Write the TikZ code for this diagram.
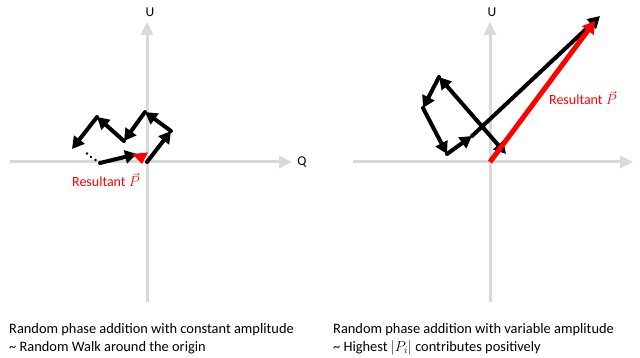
\documentclass[tikz,border=0pt]{standalone}
\usepackage{fontspec}
\setmainfont{Carlito}
\usetikzlibrary{arrows.meta}
\definecolor{axisgray}{RGB}{217,217,217}
\definecolor{resred}{RGB}{255,0,0}
\begin{document}
\begin{tikzpicture}[x=1pt,y=-1pt,
  axis/.style={draw=axisgray,line width=3pt,-{Triangle[length=13pt,width=12pt]}},
  vec/.style={draw=black,line width=4pt,line cap=round,-{Triangle[length=12pt,width=13pt]}},
  dvec/.style={draw=black,line width=4pt,{Triangle[length=12pt,width=13pt]}-{Triangle[length=12pt,width=13pt]}},
  resvec/.style={draw=resred,line width=5pt,-{Triangle[length=12pt,width=14pt]}},
  lbl/.style={font=\fontsize{13.5}{16}\selectfont},
  reslbl/.style={font=\fontsize{14}{16}\selectfont,text=resred},
  caption/.style={font=\fontsize{14.4}{17}\selectfont,anchor=west,inner sep=0pt}]
\useasboundingbox (0,0) rectangle (640,358);
% ---------- left panel ----------
\coordinate (L0) at (147,162);
\coordinate (Lxs) at (10,162);
\coordinate (Lxe) at (292,162);
\coordinate (Lys) at (147,302);
\coordinate (Lye) at (147,22);
\draw[axis] (Lxs) -- (Lxe);
\draw[axis] (Lys) -- (Lye);
\node[lbl] (LU) at (150,12) {U};
\node[lbl] (LQ) at (302,162) {Q};
\coordinate (a1) at (171,131);
\coordinate (a2) at (145,112);
\coordinate (a3) at (124,141);
\coordinate (a4) at (97,117);
\coordinate (a5) at (72,149);
\coordinate (a6) at (100,163);
\coordinate (a7) at (137,154);
\draw[vec] (L0) -- (a1);
\draw[vec] (a1) -- (a2);
\draw[vec] (a2) -- (a3);
\draw[vec] (a3) -- (a4);
\draw[vec] (a4) -- (a5);
\draw[vec] (a6) -- (a7);
\coordinate (d1) at (87,153.5);
\coordinate (d2) at (91,157);
\coordinate (d3) at (95.5,160);
\fill (d1) circle (1.4pt) (d2) circle (1.4pt) (d3) circle (1.4pt);
\coordinate (r1) at (132,154);
\coordinate (r2) at (148,152.5);
\coordinate (r3) at (142,164);
\fill[resred] (r1) -- (r2) -- (r3) -- cycle;
\node[reslbl] (LR) at (106,180) {Resultant $\vec{P}$};
% ---------- right panel ----------
\coordinate (R0) at (490,162);
\coordinate (Rxs) at (353,162);
\coordinate (Rxe) at (633,162);
\coordinate (Rys) at (490,302);
\coordinate (Rye) at (490,22);
\draw[axis] (Rxs) -- (Rxe);
\draw[axis] (Rys) -- (Rye);
\node[lbl] (RU) at (492,12) {U};
\node[lbl,anchor=west] (RQ) at (637,162) {Q};
\coordinate (b0) at (506,154);
\coordinate (b1) at (439,77);
\coordinate (b2) at (423,108);
\coordinate (b3) at (447,154);
\coordinate (b4) at (472,136);
\coordinate (b5) at (600,16);
\draw[dvec] (b1) -- (b0);
\draw[vec] (b1) -- (b2);
\draw[vec] (b2) -- (b3);
\draw[vec] (b3) -- (b4);
\draw[vec] (b4) -- (b5);
\coordinate (rt) at (595,21);
\draw[resvec] (R0) -- (rt);
\node[reslbl] (RR) at (583,98) {Resultant $\vec{P}$};
% ---------- captions ----------
\node[caption] (c1) at (9,330) {Random phase addition with constant amplitude};
\node[caption] (c2) at (9,348) {\textasciitilde\ Random Walk around the origin};
\node[caption] (c3) at (333,330) {Random phase addition with variable amplitude};
\node[caption] (c4) at (333,348) {\textasciitilde\ Highest $|P_i|$ contributes positively};
\end{tikzpicture}
\end{document}
